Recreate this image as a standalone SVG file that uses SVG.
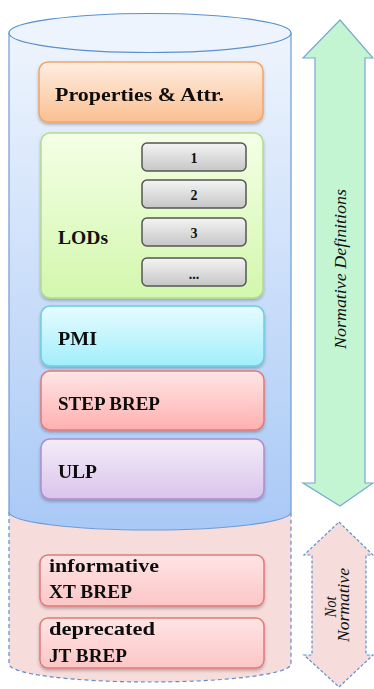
<svg xmlns="http://www.w3.org/2000/svg" width="374" height="689" viewBox="0 0 374 689">
<defs>
<linearGradient id="gCyl" x1="0" y1="0" x2="0" y2="1"><stop offset="0" stop-color="#eef4fd"/><stop offset="1" stop-color="#a9c9f6"/></linearGradient>
<linearGradient id="gOr" x1="0" y1="0" x2="0" y2="1"><stop offset="0" stop-color="#feeee2"/><stop offset="1" stop-color="#fbbf91"/></linearGradient>
<linearGradient id="gGr" x1="0" y1="0" x2="0" y2="1"><stop offset="0" stop-color="#f4ffe6"/><stop offset="1" stop-color="#d3f7ad"/></linearGradient>
<linearGradient id="gCy" x1="0" y1="0" x2="0" y2="1"><stop offset="0" stop-color="#e6fcfe"/><stop offset="1" stop-color="#a2eefc"/></linearGradient>
<linearGradient id="gRd" x1="0" y1="0" x2="0" y2="1"><stop offset="0" stop-color="#ffe6e6"/><stop offset="1" stop-color="#ffb0b0"/></linearGradient>
<linearGradient id="gPu" x1="0" y1="0" x2="0" y2="1"><stop offset="0" stop-color="#f4ecf8"/><stop offset="1" stop-color="#dac4ec"/></linearGradient>
<linearGradient id="gPk" x1="0" y1="0" x2="0" y2="1"><stop offset="0" stop-color="#ffe4e4"/><stop offset="1" stop-color="#fcc6c6"/></linearGradient>
<linearGradient id="gGy" x1="0" y1="0" x2="0" y2="1"><stop offset="0" stop-color="#f4f4f4"/><stop offset="1" stop-color="#c6c6c6"/></linearGradient>
<filter id="sh" x="-10%" y="-10%" width="120%" height="130%"><feDropShadow dx="0" dy="2" stdDeviation="1.5" flood-color="#000" flood-opacity="0.25"/></filter>
</defs>
<style>
.lbl{font-family:"Liberation Serif","Times New Roman",serif;font-weight:bold;font-size:19px;fill:#111}
.num{font-family:"Liberation Serif","Times New Roman",serif;font-weight:bold;font-size:14px;fill:#111}
.vt{font-family:"Liberation Serif","Times New Roman",serif;font-style:italic;font-size:16px;fill:#111}
.box{stroke-width:1.5}
.sub{fill:url(#gGy);stroke:#555;stroke-width:1.5}
</style>
<g id="cylinder">
<path d="M9,512 V664 A141,18 0 0 0 291,664 V512" fill="#f6dcdb" stroke="#5b8fd0" stroke-width="1.2" stroke-dasharray="4,3"/>
<path d="M9,33 V512 A141,18 0 0 0 291,512 V33 Z" fill="url(#gCyl)" stroke="#6e9bd6" stroke-width="1.2"/>
<ellipse cx="150" cy="33" rx="141" ry="19.5" fill="#eef4fd" stroke="#5b8fd0" stroke-width="1.2"/>
</g>
<g id="properties" filter="url(#sh)">
<rect x="39" y="62" width="224" height="60" rx="9" fill="url(#gOr)" stroke="#f2a468" class="box"/>
<text x="55" y="101" class="lbl" textLength="169" lengthAdjust="spacingAndGlyphs">Properties &amp; Attr.</text>
</g>
<g id="lods">
<rect x="41" y="133" width="222" height="165" rx="9" fill="url(#gGr)" stroke="#b4dc8a" class="box" filter="url(#sh)"/>
<text x="58" y="244" class="lbl" textLength="50" lengthAdjust="spacingAndGlyphs">LODs</text>
<g id="lod1"><rect x="142" y="143" width="104" height="28" rx="5" class="sub"/><text x="194" y="163" class="num" text-anchor="middle">1</text></g>
<g id="lod2"><rect x="142" y="180" width="104" height="28" rx="5" class="sub"/><text x="194" y="200" class="num" text-anchor="middle">2</text></g>
<g id="lod3"><rect x="142" y="218" width="104" height="28" rx="5" class="sub"/><text x="194" y="238" class="num" text-anchor="middle">3</text></g>
<g id="lod4"><rect x="142" y="258" width="104" height="28" rx="5" class="sub"/><text x="194" y="279" class="num" text-anchor="middle">...</text></g>
</g>
<g id="pmi" filter="url(#sh)">
<rect x="41" y="306" width="223" height="60" rx="9" fill="url(#gCy)" stroke="#6ccde0" class="box"/>
<text x="58" y="345" class="lbl" textLength="39" lengthAdjust="spacingAndGlyphs">PMI</text>
</g>
<g id="step" filter="url(#sh)">
<rect x="41" y="371" width="223" height="59" rx="9" fill="url(#gRd)" stroke="#e27878" class="box"/>
<text x="58" y="410" class="lbl" textLength="102" lengthAdjust="spacingAndGlyphs">STEP BREP</text>
</g>
<g id="ulp" filter="url(#sh)">
<rect x="41" y="439" width="223" height="60" rx="9" fill="url(#gPu)" stroke="#b08cc8" class="box"/>
<text x="58" y="478" class="lbl" textLength="39" lengthAdjust="spacingAndGlyphs">ULP</text>
</g>
<g id="xt" filter="url(#sh)">
<rect x="40" y="555" width="224" height="51" rx="8" fill="url(#gPk)" stroke="#e07a7a" class="box"/>
<text x="49" y="572" class="lbl" textLength="110" lengthAdjust="spacingAndGlyphs">informative</text>
<text x="49" y="598" class="lbl" textLength="83" lengthAdjust="spacingAndGlyphs">XT BREP</text>
</g>
<g id="jt" filter="url(#sh)">
<rect x="40" y="618" width="224" height="50" rx="8" fill="url(#gPk)" stroke="#e07a7a" class="box"/>
<text x="49" y="635" class="lbl" textLength="106" lengthAdjust="spacingAndGlyphs">deprecated</text>
<text x="49" y="662" class="lbl" textLength="78" lengthAdjust="spacingAndGlyphs">JT BREP</text>
</g>
<g id="normative">
<path d="M340,20 L373,58 L365,58 L365,483 L373,483 L340,506 L303,483 L315,483 L315,58 L303,58 Z" fill="#c3f5d3" stroke="#7aa8d0" stroke-width="1.2"/>
<text transform="translate(346,269) rotate(-90)" class="vt" text-anchor="middle" textLength="160" lengthAdjust="spacingAndGlyphs">Normative Definitions</text>
</g>
<g id="notnormative">
<path d="M339,522 L373,555 L366,555 L366,655 L373,655 L339,687 L304,655 L312,655 L312,555 L304,555 Z" fill="#f6dcdb" stroke="#5b8fd0" stroke-width="1.2" stroke-dasharray="3,2"/>
<text transform="translate(336,607) rotate(-90)" class="vt" text-anchor="middle" textLength="21" lengthAdjust="spacingAndGlyphs">Not</text>
<text transform="translate(349,605) rotate(-90)" class="vt" text-anchor="middle" textLength="74" lengthAdjust="spacingAndGlyphs">Normative</text>
</g>
</svg>
